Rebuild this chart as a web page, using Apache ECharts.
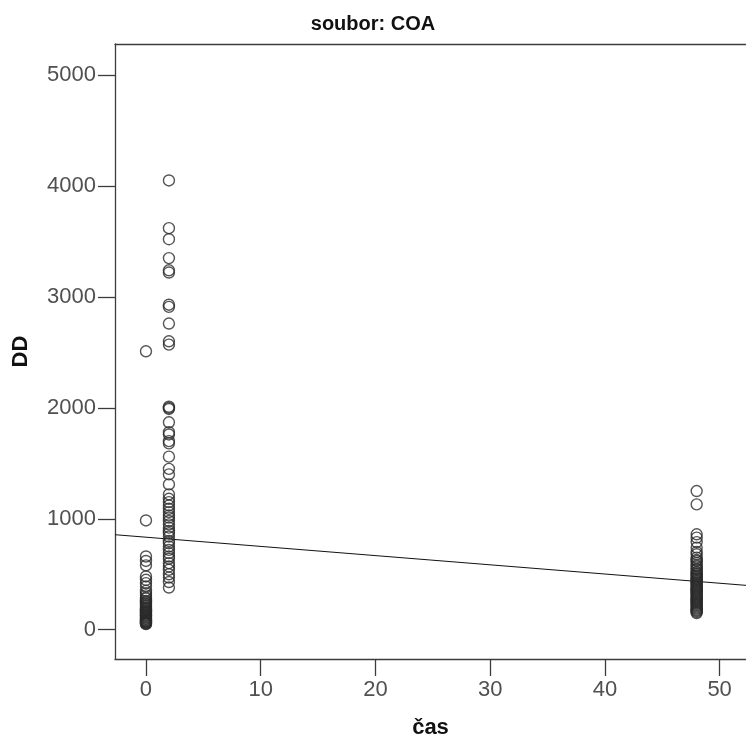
<!DOCTYPE html>
<html>
<head>
<meta charset="utf-8">
<script src="https://cdn.jsdelivr.net/npm/echarts@6/dist/echarts.min.js"></script>
<style>
  html, body { margin: 0; padding: 0; background: #fff; }
  #chart { width: 746px; height: 740px; }
</style>
</head>
<body>
<div id="chart"></div>
<script>
// Measurement times (x) and DD values observed at each time
const timeValues = [0, 2, 48];
const ddAt0 = [2510, 985, 660, 620, 580, 480, 450, 420, 390, 350, 330, 310, 290, 280, 260, 250, 240, 230, 220, 210, 200, 190, 185, 175, 170, 160, 155, 150, 140, 130, 125, 115, 110, 100, 95, 85, 80, 75, 70, 65, 60, 55, 50];
const ddAt2 = [4050, 3620, 3520, 3350, 3240, 3220, 2930, 2910, 2760, 2600, 2570, 2010, 2000, 1990, 1870, 1780, 1760, 1700, 1680, 1560, 1450, 1400, 1310, 1220, 1180, 1150, 1120, 1090, 1060, 1030, 1010, 980, 950, 920, 890, 870, 840, 800, 780, 750, 720, 690, 660, 640, 600, 570, 540, 500, 470, 430, 380];
const ddAt48 = [1250, 1130, 860, 830, 790, 740, 700, 680, 650, 630, 620, 600, 580, 570, 550, 540, 520, 510, 500, 490, 480, 470, 460, 450, 440, 430, 420, 410, 400, 390, 380, 370, 360, 350, 340, 330, 320, 310, 300, 290, 280, 270, 260, 250, 240, 230, 220, 210, 200, 190, 180, 170, 160, 150];

// Fitted linear trend: DD = intercept + slope * time
const fitIntercept = 834;
const fitSlope = -8.3;

// Axis ranges and tick labels
const xRange = [-2.7, 52.3];
const yRange = [-264, 5280];
const xTicks = [0, 10, 20, 30, 40, 50];
const yTicks = [0, 1000, 2000, 3000, 4000, 5000];

const groups = [ddAt0, ddAt2, ddAt48];
const points = [];
groups.forEach((vals, i) => vals.forEach(v => points.push([timeValues[i], v])));

const fitData = xRange.map(x => [x, fitIntercept + fitSlope * x]);

const axisColor = '#3c3c3c';
const labelFont = '"Liberation Sans Narrow", "Arial Narrow", "Liberation Sans", Arial, sans-serif';

const chart = echarts.init(document.getElementById('chart'), null, { renderer: 'canvas' });
chart.setOption({
  animation: false,
  backgroundColor: '#fff',
  title: {
    text: 'soubor: COA',
    left: 'center',
    top: 9,
    textStyle: { fontFamily: labelFont, fontWeight: 'bold', fontSize: 20, color: '#111' }
  },
  grid: { left: 115, top: 44, right: 0, bottom: 81, containLabel: false, outerBoundsMode: 'none' },
  xAxis: [{
    type: 'value',
    min: xRange[0],
    max: xRange[1],
    name: 'čas',
    nameLocation: 'middle',
    nameGap: 58,
    nameTextStyle: { fontFamily: labelFont, fontWeight: 'bold', fontSize: 22, color: '#111' },
    axisLine: { show: true, onZero: false, lineStyle: { color: axisColor, width: 1.3 } },
    axisTick: { show: true, length: 17, customValues: xTicks, lineStyle: { color: axisColor, width: 1.3 } },
    axisLabel: { customValues: xTicks, margin: 20, fontFamily: labelFont, fontSize: 22, color: '#505050', formatter: v => String(v) },
    splitLine: { show: false }
  }, {
    type: 'value',
    position: 'top',
    min: xRange[0],
    max: xRange[1],
    axisLine: { show: true, onZero: false, lineStyle: { color: axisColor, width: 1.3 } },
    axisTick: { show: false },
    axisLabel: { show: false },
    splitLine: { show: false }
  }],
  yAxis: {
    type: 'value',
    min: yRange[0],
    max: yRange[1],
    name: 'DD',
    nameLocation: 'middle',
    nameGap: 83,
    nameRotate: 90,
    nameTextStyle: { fontFamily: labelFont, fontWeight: 'bold', fontSize: 22, color: '#111' },
    axisLine: { show: true, onZero: false, lineStyle: { color: axisColor, width: 1.3 } },
    axisTick: { show: true, length: 17, customValues: yTicks, lineStyle: { color: axisColor, width: 1.3 } },
    axisLabel: { customValues: yTicks, margin: 19, fontFamily: labelFont, fontSize: 22, color: '#505050', formatter: v => String(v) },
    splitLine: { show: false }
  },
  series: [{
    type: 'scatter',
    data: points,
    symbol: 'circle',
    symbolSize: 11,
    itemStyle: { color: 'rgba(255,255,255,0)', borderColor: '#2a2a2a', borderWidth: 1.4 },
    z: 3
  }, {
    type: 'line',
    data: fitData,
    showSymbol: false,
    lineStyle: { color: '#111', width: 1 },
    z: 2
  }]
});
</script>
</body>
</html>
